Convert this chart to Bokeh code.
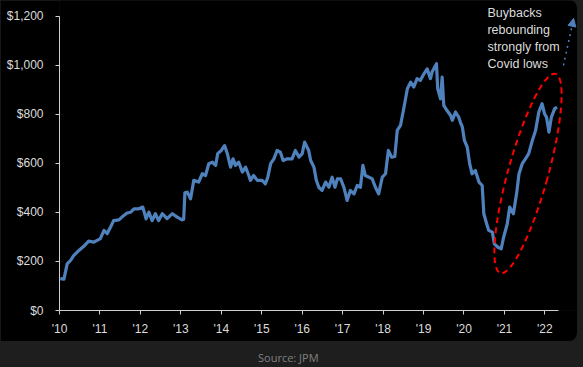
from bokeh.plotting import figure
from bokeh.models import FixedTicker, NumeralTickFormatter, Label, Arrow, NormalHead, Div
from bokeh.layouts import column
from bokeh.embed import file_html
from bokeh.resources import INLINE

# Buyback series (decimal year, $bn)
years = [2010.02, 2010.11, 2010.19, 2010.27, 2010.35, 2010.48, 2010.60, 2010.72, 2010.85, 2010.93,
         2011.01, 2011.10, 2011.18, 2011.26, 2011.34, 2011.47, 2011.59, 2011.67, 2011.76, 2011.84,
         2011.96, 2012.06, 2012.14, 2012.21, 2012.29, 2012.37, 2012.45, 2012.54, 2012.66, 2012.79,
         2012.91, 2013.03, 2013.07, 2013.10,
         2013.16, 2013.24, 2013.32, 2013.44, 2013.53, 2013.61, 2013.69, 2013.78, 2013.86, 2013.91,
         2014.00, 2014.08, 2014.15, 2014.19, 2014.23, 2014.29, 2014.35, 2014.43, 2014.52, 2014.60,
         2014.68, 2014.72, 2014.80, 2014.89, 2015.01, 2015.09, 2015.15, 2015.22, 2015.30, 2015.38,
         2015.46, 2015.53, 2015.63, 2015.75, 2015.83, 2015.92, 2016.00, 2016.06,
         2016.16, 2016.21, 2016.29, 2016.35, 2016.41, 2016.49, 2016.58, 2016.66,
         2016.74, 2016.81, 2016.87, 2016.95, 2017.03, 2017.11, 2017.19, 2017.28, 2017.36, 2017.44,
         2017.50, 2017.56, 2017.65, 2017.73, 2017.81, 2017.89, 2017.98, 2018.06, 2018.13, 2018.21,
         2018.29, 2018.35,
         2018.43, 2018.51, 2018.60, 2018.68, 2018.76, 2018.84, 2018.92, 2019.01, 2019.09, 2019.17,
         2019.21, 2019.32, 2019.35, 2019.42, 2019.46, 2019.50, 2019.58, 2019.67, 2019.71, 2019.79,
         2019.87, 2019.91,
         2019.96, 2020.01, 2020.08, 2020.14, 2020.20, 2020.28, 2020.37,
         2020.45, 2020.49, 2020.56, 2020.61, 2020.70, 2020.75, 2020.84, 2020.92, 2020.98, 2021.07,
         2021.13, 2021.22, 2021.30, 2021.36, 2021.44, 2021.52, 2021.60, 2021.69, 2021.77, 2021.85,
         2021.93, 2021.99, 2022.04, 2022.10, 2022.16, 2022.24, 2022.30]
values = [130, 128, 190, 204, 224, 245, 262, 283, 279, 286,
          293, 327, 314, 340, 367, 370, 388, 398, 401, 415,
          415, 422, 374, 401, 367, 395, 367, 395, 375, 395,
          381, 370, 372, 480,
          483, 456, 531, 524, 558, 551, 599, 605, 592, 640,
          653, 673, 640, 612, 585, 619, 592, 605, 565, 585,
          551, 531, 551, 531, 531, 517, 544, 599, 619, 653,
          646, 612, 619, 619, 653, 626, 640, 687,
          653, 612, 585, 531, 503, 490, 524, 503,
          544, 503, 537, 537, 503, 449, 490, 476, 510, 503,
          592, 551, 544, 537, 503, 476, 544, 558, 653, 626,
          629, 735,
          755, 823, 905, 932, 912, 946, 939, 966, 986, 946,
          973, 1007, 905, 864, 952, 837, 816, 796, 776, 810,
          789, 769,
          748, 694, 667, 599, 558, 571, 524,
          510, 395, 354, 327, 320, 272, 258, 252, 299, 354,
          422, 395, 476, 558, 599, 619, 640, 694, 735, 810,
          844, 803, 789, 728, 789, 823, 830]

x_ticks = [2010, 2011, 2012, 2013, 2014, 2015, 2016, 2017, 2018, 2019, 2020, 2021, 2022]
x_tick_labels = ["'10", "'11", "'12", "'13", "'14", "'15", "'16", "'17", "'18", "'19", "'20", "'21", "'22"]
y_ticks = [0, 200, 400, 600, 800, 1000, 1200]

note_lines = ["Buybacks", "rebounding", "strongly from", "Covid lows"]

FONT = "Liberation Sans"
LABEL_COLOR = "#dcdcdc"

p = figure(width=577, height=341, x_range=(2010, 2022.806), y_range=(0, 1265),
           output_backend="svg", toolbar_location=None,
           background_fill_color="black", border_fill_color="black",
           min_border_left=59, min_border_right=0, min_border_top=0, min_border_bottom=31)
p.outline_line_color = None
p.grid.visible = False
p.styles = {"border-radius": "0 8px 8px 0", "overflow": "hidden"}

p.line(years, values, line_color="#4f81bd", line_width=3.2, line_join="round")

# axes
xa = p.xaxis[0]
xa.bounds = (2010, 2022.34)
xa.ticker = FixedTicker(ticks=x_ticks)
xa.major_label_overrides = {t: l for t, l in zip(x_ticks, x_tick_labels)}
ya = p.yaxis[0]
ya.bounds = (0, 1200)
ya.ticker = FixedTicker(ticks=y_ticks)
ya.formatter = NumeralTickFormatter(format="$0,0")
for ax in (xa, ya):
    ax.axis_line_color = "#d0d0d0"
    ax.major_tick_line_color = "#d0d0d0"
    ax.major_tick_out = 4
    ax.major_tick_in = 0
    ax.minor_tick_line_color = None
    ax.major_label_text_color = LABEL_COLOR
    ax.major_label_text_font = FONT
    ax.major_label_text_font_size = "12px"
xa.major_label_standoff = 7
ya.major_label_standoff = 12

# annotation: dashed ellipse around the rebound
p.ellipse(x=[2021.582], y=[559], width=[40], height=[207], angle=[-0.27],
          width_units="screen", height_units="screen",
          fill_color=None, line_color="#ff0000", line_width=2, line_dash="6 4")

# dotted arrow
p.add_layout(Arrow(x_start=2022.46, y_start=1000, x_end=2022.71, y_end=1192,
                   line_color="#4f81bd", line_width=1.5, line_dash="dotted",
                   end=NormalHead(size=8, fill_color="#4f81bd", line_color="#4f81bd")))

# note text
for i, line in enumerate(note_lines):
    p.add_layout(Label(x=2020.58, y=1212 - i * 69, text=line, text_font=FONT,
                       text_font_size="12.5px", text_color=LABEL_COLOR, text_baseline="middle"))

src = Div(text="Source: JPM", width=583, height=26,
          styles={"color": "#808080", "font-family": "Open Sans", "font-size": "11px",
                  "padding-left": "253px", "padding-top": "4px", "box-sizing": "border-box",
                  "background-color": "#1e1e1e"})

layout = column(p, src, spacing=0, styles={"background-color": "#1e1e1e"})

open("out.html", "w").write(file_html(layout, INLINE))
